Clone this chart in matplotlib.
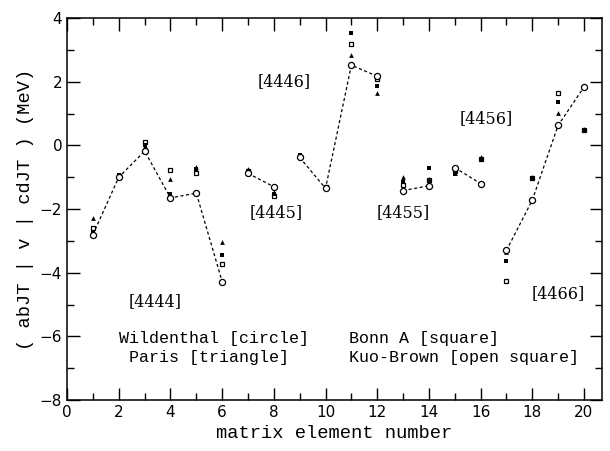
import numpy as np
import matplotlib
matplotlib.use("Agg")
import matplotlib.pyplot as plt
from matplotlib.ticker import MultipleLocator

# matrix element number
elem = np.arange(1, 21)
# Wildenthal (open circle)
wild = [-2.8, -1.0, -0.18, -1.65, -1.5, -4.28, -0.88, -1.3, -0.38, -1.35,
        2.52, 2.17, -1.42, -1.27, -0.7, -1.2, -3.3, -1.72, 0.63, 1.83]
# Paris (triangle)
paris = [-2.28, -0.95, -0.02, -1.05, -0.68, -3.05, -0.75, -1.45, -0.3, -1.3,
         2.85, 1.63, -0.98, -1.05, -0.88, -0.35, -3.35, -1.0, 1.02, 0.5]
# Bonn A (filled square)
bonn = [-2.72, -0.92, 0.02, -1.52, -0.73, -3.45, -0.85, -1.52, -0.3, -1.35,
        3.52, 1.88, -1.15, -0.72, -0.9, -0.42, -3.63, -1.03, 1.36, 0.47]
# Kuo-Brown (open square)
kuo = [-2.58, -0.95, 0.1, -0.77, -0.88, -3.72, -0.82, -1.6, -0.35, -1.3,
       3.2, 2.1, -1.25, -1.1, -0.8, -0.43, -4.27, -1.02, 1.66, 0.49]

groups = [(1, 6), (7, 8), (9, 12), (13, 14), (15, 16), (17, 20)]
group_labels = ["[4444]", "[4445]", "[4446]", "[4455]", "[4456]", "[4466]"]
label_pos = [(3.4, -4.9), (8.1, -2.1), (8.4, 2.0), (13.0, -2.1), (16.2, 0.85), (19.0, -4.65)]

fig = plt.figure(figsize=(6.1, 4.51), dpi=100)
ax = fig.add_axes([0.110, 0.113, 0.877, 0.847])

ms = 3.4
ax.plot(elem, kuo, 's', mfc='white', mec='k', ms=ms, mew=0.9)
ax.plot(elem, bonn, 's', color='k', ms=ms, mew=0)
ax.plot(elem, paris, '^', color='k', ms=ms, mew=0)
for a, b in groups:
    i0, i1 = a - 1, b
    ax.plot(elem[i0:i1], wild[i0:i1], '--', color='k', lw=0.9, dashes=(2.5, 2.0), zorder=1)
ax.plot(elem, wild, 'o', mfc='white', mec='k', ms=4.4, mew=0.9, zorder=3)

for t, (x, y) in zip(group_labels, label_pos):
    ax.text(x, y, t, ha='center', va='center', fontsize=11.5, family='DejaVu Serif')

mono = 'Liberation Mono'
fs = 12
ax.text(2.0, -6.07, "Wildenthal [circle]", ha='left', va='center', fontsize=fs, family=mono)
ax.text(2.4, -6.67, "Paris [triangle]", ha='left', va='center', fontsize=fs, family=mono)
ax.text(10.9, -6.07, "Bonn A [square]", ha='left', va='center', fontsize=fs, family=mono)
ax.text(10.9, -6.67, "Kuo-Brown [open square]", ha='left', va='center', fontsize=fs, family=mono)

ax.set_xlim(0, 20.7)
ax.set_ylim(-8, 4)
ax.xaxis.set_major_locator(MultipleLocator(2))
ax.xaxis.set_minor_locator(MultipleLocator(1))
ax.yaxis.set_major_locator(MultipleLocator(2))
ax.yaxis.set_minor_locator(MultipleLocator(1))
ax.tick_params(which='both', direction='in', top=True, right=True, labelsize=11)
ax.tick_params(which='major', length=9, width=1)
ax.tick_params(which='minor', length=5, width=1)
for s in ax.spines.values():
    s.set_linewidth(1.1)

ax.set_xlabel("matrix element number", fontsize=13.5, family=mono)
ax.set_ylabel("( abJT | v | cdJT ) (MeV)", fontsize=13.5, family=mono, labelpad=4)

fig.savefig("out.png", dpi=100)
